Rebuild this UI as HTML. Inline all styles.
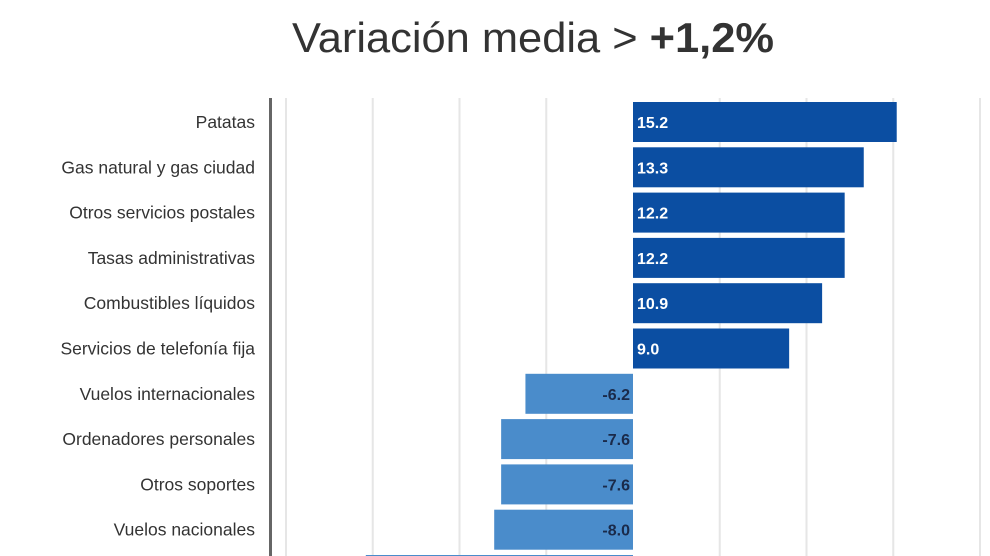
<!DOCTYPE html>
<html><head><meta charset="utf-8"><style>
html,body{margin:0;background:#fff;overflow:hidden;width:990px;height:556px;}
svg{display:block;font-family:"Liberation Sans",sans-serif;overflow:hidden;}
</style></head><body>
<svg id="chart" width="990" height="556" viewBox="0 0 990 556">
<text x="533" y="52" text-anchor="middle" font-size="42" fill="#333" textLength="482" lengthAdjust="spacingAndGlyphs">Variación media &gt; <tspan font-weight="bold">+1,2%</tspan></text>
<g id="grid"></g>
<g id="bars"></g>
<rect x="269" y="98" width="3" height="458" fill="#666"/>
</svg>
<script>
const categories=["Patatas","Gas natural y gas ciudad","Otros servicios postales","Tasas administrativas","Combustibles líquidos","Servicios de telefonía fija","Vuelos internacionales","Ordenadores personales","Otros soportes","Vuelos nacionales",""];
const values=[15.2,13.3,12.2,12.2,10.9,9.0,-6.2,-7.6,-7.6,-8.0,-15.4];
const gridTicks=[-20,-15,-10,-5,5,10,15,20];
const NS="http://www.w3.org/2000/svg";
const x0=633,scale=17.35,top0=102,pitch=45.3,bh=40;
const xs=v=>x0+v*scale;
const gridG=document.getElementById('grid'),barsG=document.getElementById('bars');
gridTicks.forEach(t=>{
  const l=document.createElementNS(NS,'line');
  l.setAttribute('x1',xs(t));l.setAttribute('x2',xs(t));
  l.setAttribute('y1',98);l.setAttribute('y2',556);
  l.setAttribute('stroke','#e6e6e6');l.setAttribute('stroke-width','2');
  
  
  gridG.appendChild(l);
});
values.forEach((v,i)=>{
  const y=top0+i*pitch;
  const h=Math.max(0,Math.min(bh,556-y));
  const r=document.createElementNS(NS,'rect');
  const a=xs(Math.min(0,v)),b=xs(Math.max(0,v));
  r.setAttribute('x',a);r.setAttribute('y',y);r.setAttribute('width',b-a);r.setAttribute('height',h);
  r.setAttribute('fill',v>=0?'#0b4ea2':'#4a8ccb');
  
  
  barsG.appendChild(r);
  if(i<10){
    const t=document.createElementNS(NS,'text');
    t.textContent=v.toFixed(1);
    t.setAttribute('y',y+bh/2+6);
    t.setAttribute('font-size','16');t.setAttribute('font-weight','bold');
    if(v>=0){t.setAttribute('x',a+4);t.setAttribute('fill','#fff');}
    else{t.setAttribute('x',b-3);t.setAttribute('text-anchor','end');t.setAttribute('fill','#1a2a4a');}
    
    
    barsG.appendChild(t);
  }
  if(categories[i]){
    const c=document.createElementNS(NS,'text');
    c.textContent=categories[i];
    c.setAttribute('x',255);c.setAttribute('y',y+bh/2+6);
    c.setAttribute('text-anchor','end');c.setAttribute('font-size','17.5');c.setAttribute('fill','#333');
    
    
    barsG.appendChild(c);
  }
});
</script>
</body></html>
